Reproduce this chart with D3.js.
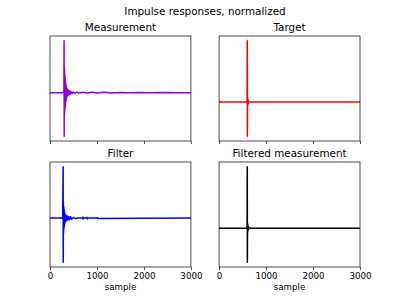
<!DOCTYPE html>
<html><head><meta charset="utf-8">
<script src="https://cdn.jsdelivr.net/npm/d3@7"></script>
<style>body{margin:0;background:#fff}svg{display:block}text{font-family:"DejaVu Sans",sans-serif;fill:#000}</style>
</head><body><div id="c"></div>
<script>
const titles = ["Measurement", "Target", "Filter", "Filtered measurement"];
const colors = ["#9400d3", "#ff0000", "#0000ff", "#000000"];
const xTicks = [0, 1000, 2000, 3000];
const suptitle = "Impulse responses, normalized";
const xLabel = "sample";

// measurement
const measX = [0, 280, 296, 300, 302, 304, 306, 308, 310, 312, 315, 318, 321, 324, 327, 330, 334, 338, 342, 346, 350, 355, 360, 366, 372, 380, 388, 398, 410, 424, 440, 456, 475, 500, 530, 570, 620, 700, 800, 900, 1000, 1150, 1300, 1500, 1700, 1900, 2100, 2400, 2700, 3000];
const measY = [0, 0, 0.04, 1.0, -0.84, 0.5, -0.42, 0.46, -0.4, 0.42, -0.36, 0.33, -0.3, 0.27, -0.25, 0.22, -0.2, 0.17, -0.15, 0.13, -0.11, 0.09, -0.08, 0.07, -0.06, 0.05, -0.045, 0.04, -0.035, 0.03, -0.025, 0.02, -0.015, 0.012, -0.01, 0.01, -0.008, 0.008, -0.007, 0.007, -0.006, 0.006, -0.005, 0.005, -0.004, 0.004, -0.003, 0.003, -0.002, 0];
// target
const targX = [0, 596, 600, 602, 605, 608, 611, 614, 618, 624, 632, 645, 3000];
const targY = [0, 0, 1.0, -0.56, 0.08, -0.07, 0.06, -0.05, 0.03, -0.02, 0.01, 0, 0];
// filter
const filtX = [0, 270, 280, 282, 286, 290, 294, 298, 302, 306, 310, 316, 322, 330, 340, 350, 365, 380, 400, 420, 440, 460, 500, 550, 600, 690, 700, 706, 712, 780, 790, 796, 802, 1000, 1010, 1016, 3000];
const filtY = [0, 0, 1.0, -0.86, 0.3, -0.28, 0.22, -0.2, 0.16, -0.15, 0.12, -0.1, 0.08, -0.07, 0.06, -0.05, 0.04, -0.04, 0.03, -0.03, 0.025, -0.02, 0.01, -0.01, 0, 0, 0.02, -0.02, 0, 0, 0.015, -0.015, 0, 0, 0.008, -0.008, 0];
// filtered measurement
const fmX = [0, 596, 600, 602, 605, 608, 611, 614, 618, 624, 632, 645, 3000];
const fmY = [0, 0, 1.0, -0.555, 0.08, -0.07, 0.06, -0.05, 0.03, -0.02, 0.01, 0, 0];

const seriesX = [measX, targX, filtX, fmX];
const seriesY = [measY, targY, filtY, fmY];

const W = 400, H = 300;
const svg = d3.select("#c").append("svg").attr("width", W).attr("height", H);
svg.append("text").attr("x", 205).attr("y", 14.6).attr("text-anchor", "middle")
  .attr("font-size", 10.4).text(suptitle);

const figL = 0.125 * W, figR = 0.9 * W, figT = 0.12 * H, figB = 0.89 * H;
const aw = (figR - figL) / 2.2, ah = (figB - figT) / 2.2;
const gapX = aw * 0.2, gapY = ah * 0.2;

for (let i = 0; i < 4; i++) {
  const r = Math.floor(i / 2), c = i % 2;
  const x0 = figL + c * (aw + gapX), y0 = figT + r * (ah + gapY);
  const g = svg.append("g").attr("transform", `translate(${x0},${y0})`);
  const xs = d3.scaleLinear().domain([0, 3000]).range([0, aw]);
  const ys0 = d3.min(seriesY[i]), ys1 = d3.max(seriesY[i]);
  const m = (ys1 - ys0) * 0.05;
  const ys = d3.scaleLinear().domain([ys0 - m, ys1 + m]).range([ah, 0]);
  const clipId = "clip" + i;
  g.append("clipPath").attr("id", clipId).append("rect").attr("width", aw).attr("height", ah);
  const pts = seriesX[i].map((x, k) => [x, seriesY[i][k]]);
  g.append("path").datum(pts).attr("clip-path", `url(#${clipId})`)
    .attr("fill", "none").attr("stroke", colors[i]).attr("stroke-width", 1.5)
    .attr("stroke-linejoin", "round")
    .attr("d", d3.line().x(d => xs(d[0])).y(d => ys(d[1])));
  g.append("rect").attr("width", aw).attr("height", ah).attr("fill", "none")
    .attr("stroke", "#000").attr("stroke-width", 0.7);
  const ax = g.append("g").attr("transform", `translate(0,${ah})`)
    .call(d3.axisBottom(xs).tickValues(xTicks).tickSize(3).tickPadding(3)
      .tickFormat(r === 1 ? d3.format("d") : () => ""));
  ax.select(".domain").remove();
  ax.selectAll("line").attr("stroke", "#000").attr("stroke-width", 0.7);
  ax.selectAll("text").attr("font-size", 8.7).attr("font-family", "DejaVu Sans").attr("fill", "#000");
  g.append("text").attr("x", aw / 2).attr("y", -5.2).attr("text-anchor", "middle")
    .attr("font-size", 10.4).text(titles[i]);
  if (r === 1) {
    g.append("text").attr("x", aw / 2).attr("y", ah + 23).attr("text-anchor", "middle")
      .attr("font-size", 8.7).text(xLabel);
  }
}
</script></body></html>
